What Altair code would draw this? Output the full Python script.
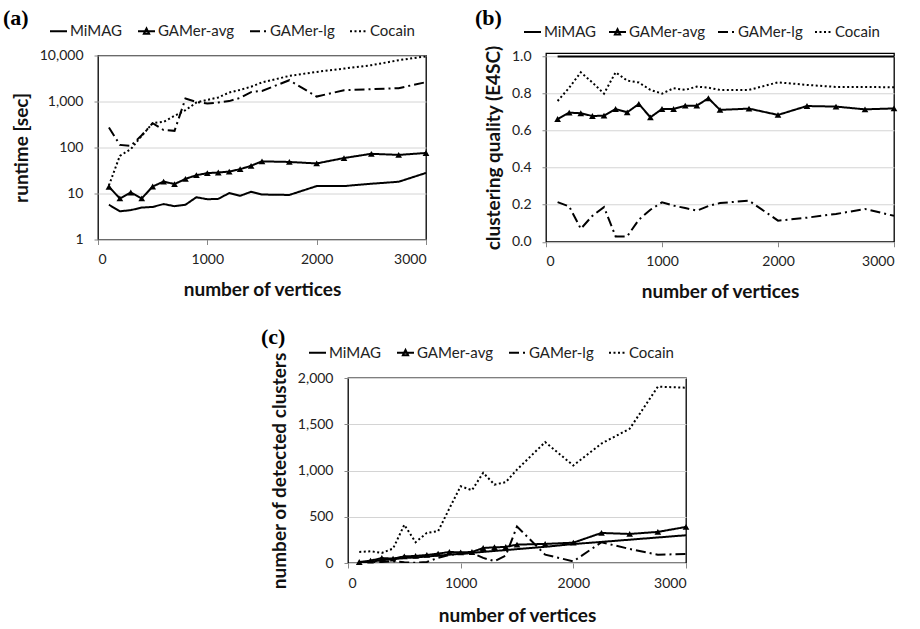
import altair as alt
import pandas as pd

# ---------------- data ----------------
vertices = [100, 200, 300, 400, 500, 600, 700, 800, 900, 1000, 1100, 1200, 1300,
            1400, 1500, 1750, 2000, 2250, 2500, 2750, 3000]
series = ["MiMAG", "GAMer-avg", "GAMer-lg", "Cocain"]

# (a) runtime [sec]
runtime_mimag = [5.7, 4.1, 4.35, 4.95, 5.1, 5.9, 5.3, 5.7, 8.3, 7.5, 7.65, 10.2, 8.9,
                 10.9, 9.5, 9.3, 14.5, 14.5, 16.3, 18.0, 28.0]
runtime_gamer_avg = [14.0, 7.8, 10.5, 7.8, 14.2, 18.2, 16.0, 20.8, 25.0, 27.7, 28.6, 30.0, 33.8,
                     40.0, 50.0, 48.5, 45.0, 59.0, 73.0, 69.0, 76.0]
runtime_gamer_lg = [272, 114, 109, 185, 338, 240, 230, 1160, 980, 900, 950, 1020, 1200,
                    1600, 1700, 2900, 1280, 1760, 1850, 1950, 2630]
runtime_cocain = [15, 66, 92, 179, 338, 361, 488, 646, 951, 1087, 1222, 1570, 1790,
                  2100, 2600, 3600, 4400, 5200, 6150, 7900, 9600]

# (b) clustering quality (E4SC)
quality_mimag = [1.0, 1.0, 1.0, 1.0, 1.0, 1.0, 1.0, 1.0, 1.0, 1.0, 1.0, 1.0, 1.0,
                 1.0, 1.0, 1.0, 1.0, 1.0, 1.0, 1.0, 1.0]
quality_gamer_avg = [0.663, 0.697, 0.694, 0.679, 0.681, 0.717, 0.699, 0.744, 0.672, 0.717, 0.717,
                     0.735, 0.735, 0.775, 0.712, 0.719, 0.685, 0.733, 0.730, 0.715, 0.720]
quality_gamer_lg = [0.214, 0.191, 0.070, 0.140, 0.187, 0.029, 0.029, 0.119, 0.173, 0.213, 0.195,
                    0.182, 0.168, 0.193, 0.209, 0.222, 0.114, 0.130, 0.150, 0.177, 0.140]
quality_cocain = [0.760, 0.832, 0.915, 0.860, 0.800, 0.915, 0.870, 0.860, 0.820, 0.800, 0.829,
                  0.820, 0.838, 0.832, 0.820, 0.820, 0.861, 0.847, 0.836, 0.836, 0.834]

# (c) number of detected clusters
clusters_mimag = [5, 15, 30, 40, 55, 60, 70, 80, 90, 100, 110, 120, 130,
                  140, 150, 175, 205, 228, 252, 276, 300]
clusters_gamer_avg = [11, 25, 54, 47, 72, 76, 87, 101, 119, 115, 119, 162, 170,
                      173, 199, 206, 220, 325, 314, 336, 390]
clusters_gamer_lg = [2, 5, 12, 18, 8, 2, 12, 55, 88, 100, 110, 55, 20,
                     80, 395, 90, 18, 224, 152, 90, 97]
clusters_cocain = [120, 127, 109, 156, 413, 225, 326, 344, 590, 830, 787, 975, 848,
                   874, 1010, 1307, 1054, 1292, 1451, 1906, 1895]

# ---------------- styling ----------------
FONT = "Lato"
dash_range = [[1, 0], [1, 0], [10, 4, 2, 4], [2, 2.5]]
legend_shapes = ["M-1,0H1", "M-1,0H1M-0.3,0.28L0,-0.32L0.3,0.28Z", "M-1,0H1", "M-1,0H1"]


def to_long(values_by_series):
    rows = []
    for name, vals in zip(series, values_by_series):
        for n, v in zip(vertices, vals):
            rows.append({"n": n, "v": v, "series": name})
    return pd.DataFrame(rows)


def panel(df, y_scale, y_axis, label, label_xy, legend_xy, col_pad, x_title_pad, w, h):
    x_enc = alt.X("n:Q", scale=alt.Scale(domain=[0, 3000], nice=False, zero=False),
                  axis=alt.Axis(values=[0, 1000, 2000, 3000], format="d",
                                title="number of vertices", grid=False,
                                tickSize=5, labelPadding=8, titlePadding=x_title_pad))
    y_enc = alt.Y("v:Q", scale=y_scale, axis=y_axis)
    dash_scale = alt.Scale(domain=series, range=dash_range)
    leg_kw = dict(title=None, orient="none", legendX=legend_xy[0], legendY=legend_xy[1],
                  direction="horizontal", labelFont=FONT, labelFontSize=15,
                  labelColor="#222", labelOffset=2, columnPadding=col_pad,
                  symbolStrokeWidth=2, symbolStrokeColor="black",
                  symbolSize=289)

    lines = alt.Chart(df).mark_line(color="black", strokeWidth=2, clip=True,
                                    strokeCap="butt").encode(
        x=x_enc, y=y_enc,
        strokeDash=alt.StrokeDash("series:N", scale=dash_scale, legend=alt.Legend(**leg_kw)),
    )
    pts = alt.Chart(df).transform_filter(alt.datum.series == "GAMer-avg").mark_point(
        shape="triangle-up", filled=True, color="black", size=45, opacity=1
    ).encode(x=x_enc, y=y_enc)

    # legend-only layer: its points have no position, so only the legend shows them
    leg_df = pd.DataFrame({"series": series, "n": [None] * 4, "v": [None] * 4})
    leg = alt.Chart(leg_df).mark_point(filled=False, color="black",
                                       strokeWidth=2, size=289, opacity=1).encode(
        x=x_enc, y=y_enc,
        shape=alt.Shape("series:N", scale=alt.Scale(domain=series, range=legend_shapes),
                        legend=alt.Legend(**leg_kw)),
        strokeDash=alt.StrokeDash("series:N", scale=dash_scale, legend=alt.Legend(**leg_kw)),
    )
    lab = alt.Chart(pd.DataFrame({"t": [label]})).mark_text(
        font="Liberation Serif", fontWeight="bold", fontSize=22, align="left",
        baseline="alphabetic", color="black"
    ).encode(text="t:N", x=alt.value(label_xy[0]), y=alt.value(label_xy[1]))

    return alt.layer(lines, pts, leg, lab).properties(width=w, height=h)


y_common = dict(grid=True, tickSize=4, labelPadding=11, titlePadding=8)

chart_a = panel(
    to_long([runtime_mimag, runtime_gamer_avg, runtime_gamer_lg, runtime_cocain]),
    alt.Scale(type="log", domain=[1, 10000], nice=False),
    alt.Axis(values=[1, 10, 100, 1000, 10000], format=",", title="runtime [sec]", **y_common),
    "(a)", (-95, -31), (-49, -34), 11, 14, 328, 184,
)
chart_b = panel(
    to_long([quality_mimag, quality_gamer_avg, quality_gamer_lg, quality_cocain]),
    alt.Scale(domain=[0, 1.018], nice=False, zero=True),
    alt.Axis(values=[0, 0.2, 0.4, 0.6, 0.8, 1.0], format=".1f",
             title="clustering quality (E4SC)", **y_common),
    "(b)", (-71, -28), (-23, -31), 8, 14, 348, 188.5,
)
chart_c = panel(
    to_long([clusters_mimag, clusters_gamer_avg, clusters_gamer_lg, clusters_cocain]),
    alt.Scale(domain=[0, 2000], nice=False),
    alt.Axis(values=[0, 500, 1000, 1500, 2000], format=",.0f",
             title="number of detected clusters", **y_common),
    "(c)", (-87, -34), (-40, -35), 11, 16, 338, 185,
)

spacer = alt.Chart(pd.DataFrame({"a": [0]})).mark_point(opacity=0).properties(
    width=240, height=185, view=alt.ViewBackground(stroke="transparent"))

res_kw = dict(x="independent", y="independent", shape="independent", strokeDash="independent")
leg_res = dict(shape="independent", strokeDash="independent")

top = alt.hconcat(chart_a, chart_b, spacing=120, bounds="flush", center=True) \
    .resolve_scale(**res_kw).resolve_legend(**leg_res)
bottom = alt.hconcat(spacer, chart_c, spacing=10, bounds="flush") \
    .resolve_scale(**res_kw).resolve_legend(**leg_res)

chart = alt.vconcat(top, bottom, spacing=22) \
    .resolve_scale(**res_kw).resolve_legend(**leg_res) \
    .properties(padding={"left": 2, "top": 5, "right": 5, "bottom": 5}) \
    .configure_view(stroke="black", strokeWidth=1.3) \
    .configure_axis(labelFont=FONT, labelFontSize=14, labelColor="#222",
                    titleFont=FONT, titleFontSize=19, titleFontWeight="bold",
                    titleColor="#111", tickColor="#888", domain=False,
                    gridColor="#d4d4d4", gridWidth=1)

chart.save("out.html", embed_options={"renderer": "svg", "actions": False})
